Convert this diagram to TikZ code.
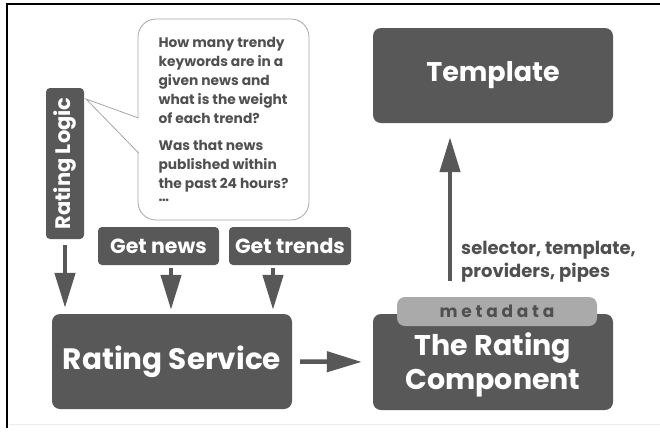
\documentclass[tikz,border=0pt]{standalone}
\usepackage{fontspec}
\setmainfont{Poppins}
\usetikzlibrary{arrows.meta, positioning}
\definecolor{boxgray}{HTML}{585858}
\definecolor{pillgray}{HTML}{AAAAAA}
\definecolor{txtgray}{HTML}{505050}
\tikzset{block/.style={fill=boxgray, text=white, rounded corners=8pt, inner sep=0pt, align=center, font=\bfseries}}
\tikzset{small block/.style={block, rounded corners=4pt, font=\bfseries\fontsize{20.5}{22}\selectfont}}
\tikzset{fat/.style={draw=boxgray, line width=4.5pt, -{Triangle[width=20pt, length=35pt]}, boxgray}}

\begin{document}
\begin{tikzpicture}[x=1pt, y=-1pt]
	\useasboundingbox (0,0) rectangle (660,432);
	
	% Frame
	\draw[line width=1.5pt] (660,4) -- (7,4) -- (7,428);
	\draw[gray!15, line width=1pt] (9,424) -- (660,424);
	
	% Speech Bubble
	\node[draw=gray!70, line width=0.8pt, rounded corners=18pt, minimum width=171pt, minimum height=201pt, align=left, text=txtgray, font=\bfseries\fontsize{13.8}{19}\selectfont] (bubble) at (223.5,119.5) {How many trendy\\keywords are in a\\given news and\\what is the weight\\of each trend?\\[8pt] Was that news\\published within\\the past 24 hours?\\[-6pt] \dots};
	\fill[white] (86,99) -- (139.5,118.5) -- (139.5,152.5) -- cycle;
	\draw[gray!70, line width=0.8pt] (138.6,118) -- (86,99) -- (138.6,153);
	
	% Boxes
	\node[small block, rotate=90, minimum width=151pt, minimum height=38pt, font=\bfseries\fontsize{21}{22}\selectfont] (logic) at (65,163.5) {Rating Logic};
	\node[small block, minimum width=121pt, minimum height=38pt] (news) at (158.5,246) {Get news};
	\node[small block, minimum width=122pt, minimum height=38pt] (trends) at (290,246) {Get trends};
	\node[block, minimum width=240pt, minimum height=95pt, font=\bfseries\fontsize{29.5}{31}\selectfont] (service) at (172,361.5) {Rating Service};
	\node[block, minimum width=240pt, minimum height=96pt, font=\bfseries\fontsize{28.5}{34}\selectfont] (component) at (493,362) {\\[-6pt]The Rating\\Component};
	\node[block, minimum width=240pt, minimum height=95pt, font=\bfseries\fontsize{27}{29}\selectfont] (template) at (493,75.5) {Template};
	\node[block, fill=pillgray, text=txtgray, minimum width=200pt, minimum height=29pt, font=\bfseries\fontsize{17}{18}\selectfont\addfontfeatures{LetterSpace=22}] (meta) at (497,311.5) {metadata};
	
	% Arrows
	\draw[fat, shorten <=6pt, shorten >=6pt] (logic.west) -- (logic.west |- service.north);
	\draw[fat, shorten <=3pt, shorten >=4pt] ([xshift=12.5pt]news.south) -- ([xshift=12.5pt]news.south |- service.north);
	\draw[fat, shorten <=3pt, shorten >=4pt] ([xshift=-17pt]trends.south) -- ([xshift=-17pt]trends.south |- service.north);
	\draw[fat, shorten <=8pt, shorten >=11pt] (service.east) -- (component.west);
	\coordinate (up) at ([xshift=-47pt, yshift=16pt]meta.north);
	\draw[fat, shorten >=14pt] (up) -- (up |- template.south);
	
	% Label
	\node[anchor=west, align=left, inner sep=0pt, text=txtgray, font=\bfseries\fontsize{18}{23}\selectfont] (pass) at (461,262) {selector, template,\\providers, pipes};
\end{tikzpicture}
\end{document}
